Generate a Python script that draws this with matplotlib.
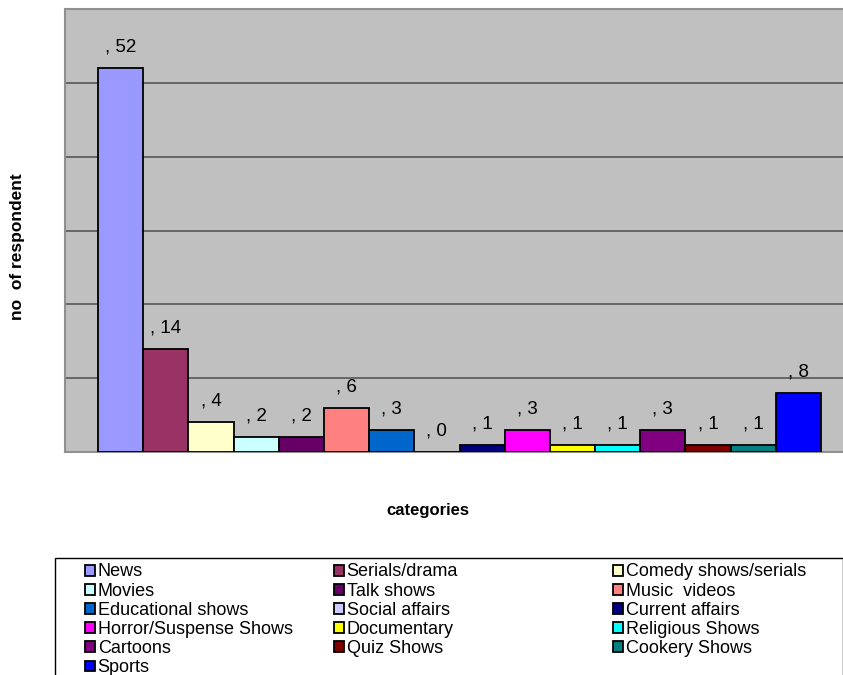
import numpy as np
import matplotlib
matplotlib.use('Agg')
import matplotlib.pyplot as plt
from matplotlib.patches import Rectangle

plt.rcParams['font.family'] = ['Liberation Sans', 'DejaVu Sans']

categories = ['News', 'Serials/drama', 'Comedy shows/serials', 'Movies',
              'Talk shows', 'Music  videos', 'Educational shows',
              'Social affairs', 'Current affairs', 'Horror/Suspense Shows',
              'Documentary', 'Religious Shows', 'Cartoons', 'Quiz Shows',
              'Cookery Shows', 'Sports']
values = [52, 14, 4, 2, 2, 6, 3, 0, 1, 3, 1, 1, 3, 1, 1, 8]
colors = ['#9999FF', '#993366', '#FFFFCC', '#CCFFFF', '#660066', '#FF8080',
          '#0066CC', '#CCCCFF', '#000080', '#FF00FF', '#FFFF00', '#00FFFF',
          '#800080', '#800000', '#008080', '#0000FF']

W, H = 843, 675
fig = plt.figure(figsize=(W / 100.0, H / 100.0), dpi=100)
ax = fig.add_axes([65.0 / W, 1 - 452.0 / H, (854.0 - 65) / W, (452.0 - 9) / H])
ax.set_facecolor('#C0C0C0')

pos = np.arange(len(values))
handles = []
for i in range(len(values)):
    b = ax.bar(pos[i], values[i], width=1.0, color=colors[i],
               edgecolor='black', linewidth=1.3, label=categories[i], zorder=3)
    handles.append(b)
    ax.annotate(', {}'.format(values[i]), (pos[i], values[i]),
                xytext=(0, 9), textcoords='offset points', ha='center',
                va='bottom', fontsize=13.5)

gap = 33.0 / 45.2
ax.set_xlim(-0.5 - gap, len(values) - 0.5 + gap)
ax.set_ylim(0, 60)
ax.set_yticks([10, 20, 30, 40, 50])
ax.yaxis.grid(True, color='#666666', linewidth=1.4, zorder=0)
ax.tick_params(left=False, bottom=False, labelleft=False, labelbottom=False)
for s in ax.spines.values():
    s.set_color('#909090')
    s.set_linewidth(1.5)

fig.text(18.0 / W, 1 - 247.0 / H, 'no  of respondent', rotation=90,
         ha='center', va='center', fontsize=12.5, fontweight='bold')
fig.text(428.0 / W, 1 - 510.0 / H, 'categories', ha='center', va='center',
         fontsize=12, fontweight='bold')

# legend box
fig.patches.append(Rectangle((55.0 / W, -0.01), (W - 55.0) / W,
                             1 - 558.0 / H + 0.01, transform=fig.transFigure,
                             facecolor='white', edgecolor='black',
                             linewidth=1.0, zorder=1))
col_x = [85, 334, 613]
for c in range(3):
    idx = list(range(c, len(values), 3))
    lg = fig.legend([handles[i] for i in idx], [categories[i] for i in idx],
                    loc='upper left', bbox_to_anchor=(col_x[c] / float(W), 1 - 563.5 / H),
                    frameon=False, fontsize=13, handlelength=0.55,
                    handleheight=0.55, handletextpad=0.15, labelspacing=0.12,
                    borderpad=0.0, borderaxespad=0.0)
    lg.set_zorder(2)

fig.savefig('out.png', dpi=100)
